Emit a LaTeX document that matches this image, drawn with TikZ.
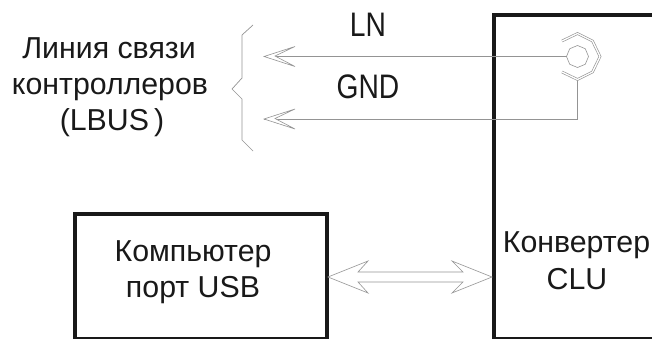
\documentclass[tikz,border=0pt]{standalone}
\usepackage{fontspec}
\usetikzlibrary{shapes.geometric}
\setmainfont{Liberation Sans}
\newfontfamily\narrowfam[FakeStretch=.83]{Liberation Sans}
\tikzset{
  x=1pt,y=-1pt,
  box/.style={draw=black!90,line width=3.6pt,fill=none,inner sep=0pt,outer sep=0pt,anchor=north west},
  lbl/.style={font=\fontsize{30.3}{32}\selectfont,text=black!90,inner sep=0pt,anchor=base},
  tall lbl/.style={font=\narrowfam\fontsize{34}{36}\selectfont,text=black!90,inner sep=0pt,anchor=base},
  thin line/.style={draw=black!42,line width=.7pt,line join=miter},
  head/.style={draw=black!42,line width=.6pt,fill=white,line join=miter},
}
\begin{document}
\begin{tikzpicture}
\useasboundingbox (0,0) rectangle (652,340);
\clip (0,0) rectangle (652,338.7);
% boxes
\node[box,minimum width=252pt,minimum height=124.5pt] (pc) at (75,214) {};
\node[box,minimum width=200pt,minimum height=323.5pt] (clu) at (494,15) {};
% labels
\node[lbl] (t1) at (109,58) {Линия связи};
\node[lbl] (t2) at (110,94) {контроллеров};
\node[lbl] (t3) at (112,130) {(LBUS\,)};
\node[tall lbl] (ln) at (368,36) {LN};
\node[tall lbl] (gnd) at (368,98) {GND};
\node[lbl] (pc1) at (193,261.5) {Компьютер};
\node[lbl] (pc2) at (193,297) {порт USB};
\node[lbl] (c1) at (576.5,252) {Конвертер};
\node[lbl] (c2) at (577,289) {CLU};
% jack
\coordinate (jack) at (577.5,56.5);
\node[draw=black!42,line width=.6pt,regular polygon,regular polygon sides=8,minimum size=22pt,inner sep=0pt,outer sep=0pt,shape border rotate=22.5] (ring) at (jack) {};
\coordinate (sleeve) at (577.5,80);
\coordinate (tipA) at (264,56.5);
\coordinate (tipB) at (264,119);
\coordinate (bend) at (577.5,119);
\draw[thin line] (ring.west) -- (tipA);
\draw[thin line] (sleeve) -- (bend) -- (tipB);
\draw[draw=black!42,line width=2.6pt,line join=miter] (562,41) -- (577.5,33.5) -- (592.5,41) -- (600,56.5) -- (592.5,72) -- (577.5,79.5) -- (562,72);
\draw[draw=white,line width=1.3pt,line join=miter] (562,41) -- (577.5,33.5) -- (592.5,41) -- (600,56.5) -- (592.5,72) -- (577.5,79.5) -- (562,72);
% arrowheads
\draw[head] (tipA) -- ++(31,-10) -- ++(-20,9.5) -- ++(20,10.5) -- cycle;
\draw[head] (tipB) -- ++(31,-10) -- ++(-20,9.5) -- ++(20,10.5) -- cycle;
% brace
\draw[thin line] (253,25) -- (242,35) -- (242,78) -- (232,89) -- (242,99) -- (242,140) -- (253,151);
% double arrow
\coordinate (dl) at (328,277);
\coordinate (dr) at (492,277);
\draw[head] (dl) -- (368,261) -- (358,272) -- (463,272) -- (452,261) -- (dr) -- (452,293) -- (463,282) -- (358,282) -- (368,293) -- cycle;
\end{tikzpicture}
\end{document}
